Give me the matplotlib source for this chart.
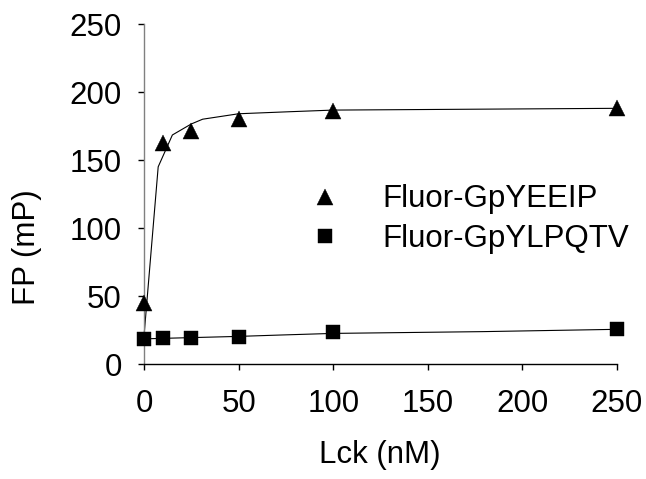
import matplotlib
matplotlib.use("Agg")
import matplotlib.pyplot as plt

# Data points
lck_nM = [0, 10, 25, 50, 100, 250]
fp_gpyeeip = [44.7, 162.2, 171.4, 179.8, 186.0, 188.0]
fp_gpylpqtv = [18.6, 19.4, 19.1, 20.1, 23.7, 25.9]

# Fitted curves
fit_x_yeeip = [0, 7.5, 15, 25, 31, 50, 77, 100, 250]
fit_y_yeeip = [20.5, 145.0, 168.4, 176.5, 180.0, 184.0, 185.5, 186.7, 188.0]
fit_x_ylpqtv = [0, 50, 72, 100, 179, 250]
fit_y_ylpqtv = [18.5, 20.3, 21.3, 22.5, 23.8, 25.5]

labels = ["Fluor-GpYEEIP", "Fluor-GpYLPQTV"]
x_ticks = [0, 50, 100, 150, 200, 250]
y_ticks = [0, 50, 100, 150, 200, 250]

plt.rcParams['font.family'] = ['Liberation Sans', 'DejaVu Sans']
FS = 22.5

fig = plt.figure(figsize=(6.46, 4.79), dpi=100)
ax = fig.add_axes([144/646, 115/479, 473/646, 340/479])

ax.plot(fit_x_yeeip, fit_y_yeeip, color='black', lw=0.8, zorder=2, clip_on=False)
ax.plot(fit_x_ylpqtv, fit_y_ylpqtv, color='black', lw=0.8, zorder=2, clip_on=False)
h1, = ax.plot(lck_nM, fp_gpyeeip, linestyle='none', marker='^', ms=11.5,
              color='black', mew=0.3, zorder=3, clip_on=False)
h2, = ax.plot(lck_nM, fp_gpylpqtv, linestyle='none', marker='s', ms=10.5,
              color='black', mew=0.3, zorder=3, clip_on=False)

ax.set_xlim(0, 250)
ax.set_ylim(0, 250)
ax.set_xticks(x_ticks)
ax.set_yticks(y_ticks)
ax.set_xticklabels([str(v) for v in x_ticks], fontsize=FS)
ax.set_yticklabels([str(v) for v in y_ticks], fontsize=FS)

for s in ['top', 'right']:
    ax.spines[s].set_visible(False)
ax.spines['left'].set_color('#808080')
ax.spines['left'].set_linewidth(1.0)
ax.spines['bottom'].set_color('black')
ax.spines['bottom'].set_linewidth(1.0)
ax.tick_params(axis='x', direction='out', length=4, width=1.0, pad=14, color='black')
ax.tick_params(axis='y', direction='out', length=4, width=1.0, pad=12, color='black')

ax.set_xlabel("Lck (nM)", fontsize=FS)
ax.set_ylabel("FP (mP)", fontsize=FS)
ax.xaxis.label.set_va('center')
ax.yaxis.label.set_va('center')
ax.xaxis.set_label_coords(0.499, -0.268)
ax.yaxis.set_label_coords(-0.247, 0.344)

leg = ax.legend([h1, h2], labels, loc='center left', bbox_to_anchor=(0.316, 0.426),
                frameon=False, fontsize=FS, numpoints=1, handlelength=2.0,
                handletextpad=0.83, labelspacing=0.3, borderpad=0, borderaxespad=0)

fig.savefig("out.png", dpi=100)
